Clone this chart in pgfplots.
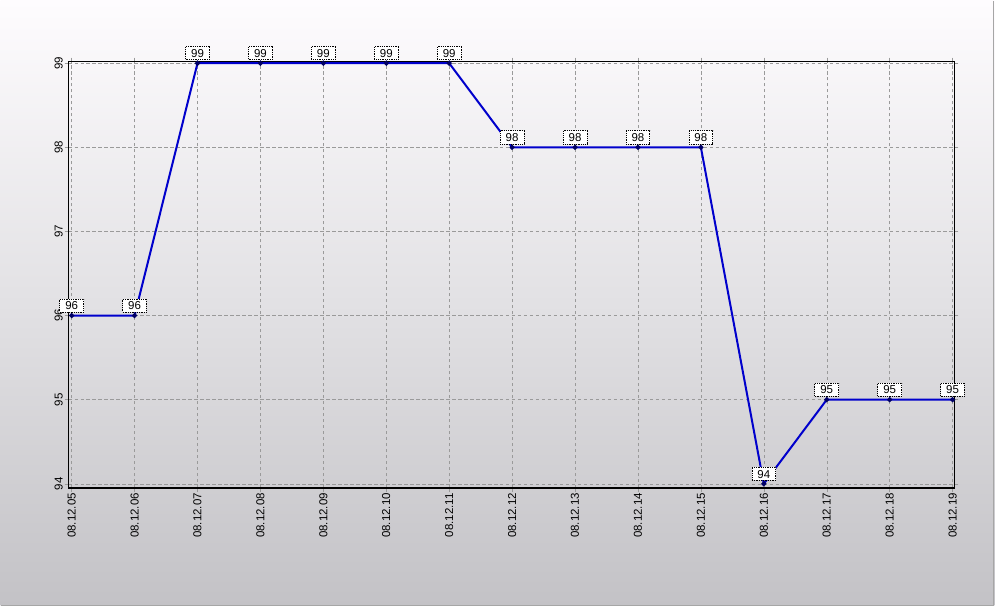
\documentclass[border=0pt]{standalone}
\usepackage{pgfplots}
\pgfplotsset{compat=1.18}
\usepackage{fontspec}
\setmainfont{Liberation Sans}
\definecolor{bgtop}{HTML}{FEFCFE}
\definecolor{bgmid}{HTML}{E2E1E4}
\definecolor{bgbot}{HTML}{C3C2C6}
\definecolor{lineblue}{HTML}{0000CC}
\definecolor{gridgray}{HTML}{9A9A9A}
\begin{document}
\begin{tikzpicture}[x=1pt,y=1pt]
\shade[top color=bgtop, bottom color=bgbot, middle color=bgmid] (0,0) rectangle (995,606);
\draw[gray!70, line width=1.2pt] (994.4,0) -- (994.4,606);
\draw[gray!70, line width=1.2pt] (0,0.6) -- (995,0.6);
\begin{axis}[
  at={(68pt,118pt)}, anchor=south west,
  width=887pt, height=427pt, scale only axis,
  xmin=-0.05, xmax=14.03, ymin=93.95, ymax=99.02,
  xtick={0,...,14},
  xticklabels={08.12.05,08.12.06,08.12.07,08.12.08,08.12.09,08.12.10,08.12.11,08.12.12,08.12.13,08.12.14,08.12.15,08.12.16,08.12.17,08.12.18,08.12.19},
  ytick={94,...,99},
  /pgf/number format/assume math mode=true,
  tick label style={font=\fontsize{11.5}{12}\selectfont, text=black},
  xticklabel style={rotate=90, anchor=east, inner sep=1pt},
  yticklabel style={rotate=90, anchor=south, inner sep=1.5pt},
  tick align=outside, major tick length=4pt,
  tick style={gridgray, thin},
  grid=major,
  major grid style={gridgray, dash pattern=on 3.5pt off 2.5pt, thin},
  axis line style={black, line width=1.2pt},
  clip=false,
]
\addplot[lineblue, line width=2pt, mark=*, mark size=1.4pt, mark options={fill=blue!40!black, draw=blue!40!black},
  nodes near coords,
  every node near coord/.style={font=\fontsize{11.5}{12}\selectfont, draw=black, line width=0.8pt, dash pattern=on 0.9pt off 0.9pt, fill=white, inner xsep=5.5pt, inner ysep=2.4pt, anchor=south, yshift=3pt, text=black, text depth=0pt, text height=8.3pt}] coordinates {
(0,96) (1,96) (2,99) (3,99) (4,99) (5,99) (6,99) (7,98) (8,98) (9,98) (10,98) (11,94) (12,95) (13,95) (14,95)
};
\end{axis}
\end{tikzpicture}
\end{document}
